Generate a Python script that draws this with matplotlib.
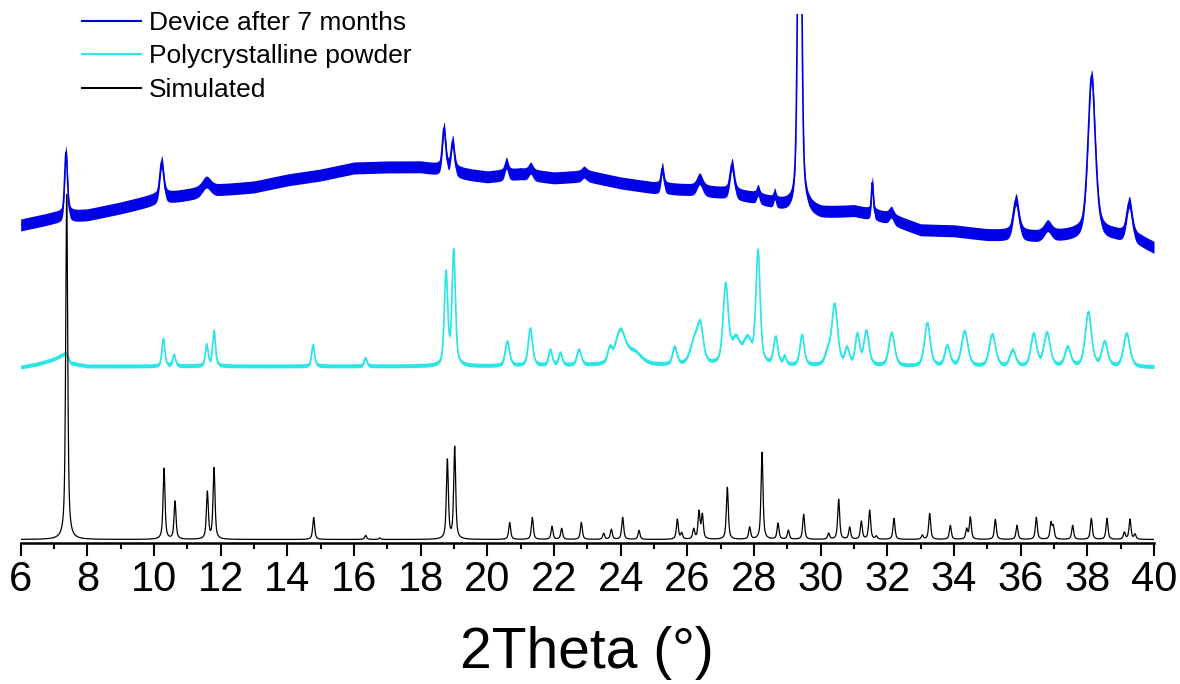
import numpy as np
import matplotlib.pyplot as plt
from matplotlib.ticker import MultipleLocator

plt.rcParams['font.family'] = ['Liberation Sans', 'DejaVu Sans']

# Simulated pattern: reflection positions (2theta, deg) and heights (a.u.)
sim_pos = [7.38, 10.30, 10.63, 11.60, 11.80, 14.79, 16.35, 16.77, 18.80, 19.02,
           20.67, 21.35, 21.94, 22.23, 22.82, 23.49, 23.72, 24.06, 24.55, 25.70,
           25.83, 26.19, 26.35, 26.45, 27.20, 27.87, 28.24, 28.72, 29.03, 29.49,
           30.24, 30.54, 30.87, 31.22, 31.47, 31.67, 32.20, 33.05, 33.27, 33.89,
           34.38, 34.49, 35.24, 35.89, 36.47, 36.91, 36.98, 37.56, 38.12, 38.59,
           39.11, 39.28, 39.43]
sim_height = [345, 71, 38, 47, 71, 22, 4, 1.5, 79, 92,
              17, 22, 13, 11, 17, 6, 10, 22, 9, 20,
              6, 10, 27, 24, 52, 12, 87, 16, 9, 25,
              6, 40, 12, 18, 29, 3, 21, 4, 26, 14,
              10, 22, 20, 14, 22, 16, 12, 14, 21, 21,
              7, 20, 5]
sim_base = 3.5

# Polycrystalline powder
powder_pos = [10.28, 10.60, 11.58, 11.80, 14.77, 16.34, 18.76, 18.99, 20.60, 21.29,
              21.89, 22.19, 22.75, 23.67, 23.99, 24.40, 25.62, 26.22, 26.39, 27.15,
              27.45, 27.80, 28.12, 28.65, 28.92, 29.44, 30.22, 30.42, 30.79, 31.10,
              31.37, 32.13, 33.20, 33.80, 34.32, 35.15, 35.76, 36.39, 36.79, 37.41,
              38.03, 38.52, 39.18]
powder_height = [27, 11, 21, 35, 21, 8, 92, 114, 24, 37,
                 15, 12, 15, 13, 33, 12, 17, 24, 33, 78,
                 24, 24, 112, 27, 8, 30, 12, 60, 16, 30,
                 34, 33, 43, 20, 35, 32, 16, 32, 33, 19,
                 54, 24, 33]
powder_fwhm = [0.10, 0.10, 0.10, 0.10, 0.10, 0.10, 0.12, 0.12, 0.15, 0.15,
               0.12, 0.12, 0.15, 0.15, 0.35, 0.50, 0.15, 0.30, 0.20, 0.18,
               0.30, 0.30, 0.15, 0.15, 0.10, 0.15, 0.20, 0.20, 0.15, 0.15,
               0.18, 0.20, 0.20, 0.18, 0.22, 0.22, 0.20, 0.20, 0.22, 0.20,
               0.22, 0.20, 0.22]
powder_base_x = [6.0, 6.5, 7.0, 7.35, 7.5, 8.0, 12.0, 20.0, 24.0, 30.0, 35.0, 40.0]
powder_base_y = [176, 179, 184, 190, 180, 177, 177, 177, 178, 177, 176, 176]
powder_noise = 2.0

# Device after 7 months
device_pos = [7.36, 10.23, 11.57, 18.70, 18.96, 20.57, 21.30, 22.90, 25.25, 26.37,
              27.34, 28.12, 28.62, 29.37, 31.55, 32.12, 35.86, 36.81, 38.13, 39.26]
device_height = [65, 37, 10, 42, 30, 12, 7, 4, 20, 12,
                 30, 8, 8, 500, 32, 7, 36, 10, 160, 36]
device_fwhm = [0.10, 0.14, 0.30, 0.12, 0.12, 0.12, 0.15, 0.15, 0.10, 0.20,
               0.15, 0.10, 0.08, 0.12, 0.07, 0.15, 0.20, 0.25, 0.26, 0.20]
device_base_x = [6.0, 7.0, 8.0, 9.0, 10.0, 11.0, 12.0, 13.0, 14.0, 15.0, 16.0, 17.0,
                 18.0, 19.5, 20.0, 21.0, 22.0, 23.0, 24.0, 25.0, 26.0, 27.0, 28.0,
                 29.0, 30.0, 31.0, 32.0, 33.0, 34.0, 35.0, 36.5, 37.5, 38.8, 39.6, 40.0]
device_base_y = [318, 325, 328, 335, 343, 348, 353, 356, 363, 368, 375, 376,
                 376, 368, 366, 369, 365, 367, 360, 355, 353, 350, 345,
                 336, 330, 332, 325, 313, 312, 308, 306, 307, 307, 301, 295]
device_noise = 6.0


def pattern(x, pos, height, fwhm, eta):
    y = np.zeros_like(x)
    fwhm = np.broadcast_to(fwhm, len(pos))
    for p, h, w in zip(pos, height, fwhm):
        g = np.exp(-4 * np.log(2) * ((x - p) / w) ** 2)
        l = 1 / (1 + 4 * ((x - p) / w) ** 2)
        y += h * (eta * l + (1 - eta) * g)
    return y


x = np.linspace(6, 40, 6801)
sim = sim_base + pattern(x, sim_pos, sim_height, 0.07, 0.7)
powder = np.interp(x, powder_base_x, powder_base_y) + pattern(x, powder_pos, powder_height, powder_fwhm, 0.5)
device = np.interp(x, device_base_x, device_base_y) + pattern(x, device_pos, device_height, device_fwhm, 0.5)

fig = plt.figure(figsize=(11.8, 6.84), dpi=100)
ax = fig.add_axes([20.7 / 1180, 141 / 684, 1133.3 / 1180, 529 / 684])

blue = '#0000E6'
cyan = '#2CE6E6'

ax.fill_between(x, powder - powder_noise, powder + powder_noise, color=cyan, lw=0, zorder=1)
ax.plot(x, powder, color=cyan, lw=1.2, zorder=1, label='Polycrystalline powder')
ax.plot(x, sim, color='black', lw=0.9, zorder=2, label='Simulated')
ax.fill_between(x, device - device_noise, device + device_noise, color=blue, lw=0, zorder=3)
ax.plot(x, device, color=blue, lw=1.2, zorder=3, label='Device after 7 months')

ax.set_xlim(6, 40)
ax.set_ylim(0, 529)

for side in ['top', 'left', 'right']:
    ax.spines[side].set_visible(False)
ax.spines['bottom'].set_linewidth(1.8)
ax.set_yticks([])
ax.xaxis.set_major_locator(MultipleLocator(2))
ax.xaxis.set_minor_locator(MultipleLocator(1))
ax.tick_params(axis='x', which='major', direction='out', length=9, width=1.5, labelsize=30, pad=3)
ax.tick_params(axis='x', which='minor', direction='out', length=4.5, width=1.5)
ax.set_xlabel('2Theta (°)', fontsize=41, labelpad=19)

handles, labels = ax.get_legend_handles_labels()
order = [2, 0, 1]
leg = ax.legend([handles[i] for i in order], [labels[i] for i in order],
                loc='upper left', bbox_to_anchor=(82 / 1180, 1 - 11 / 684),
                bbox_transform=fig.transFigure, frameon=False, fontsize=19,
                handlelength=2.25, handletextpad=0.28, labelspacing=0.36,
                borderpad=0, borderaxespad=0)
for line in leg.get_lines():
    line.set_linewidth(1.5)

fig.savefig('out.png', dpi=100)
